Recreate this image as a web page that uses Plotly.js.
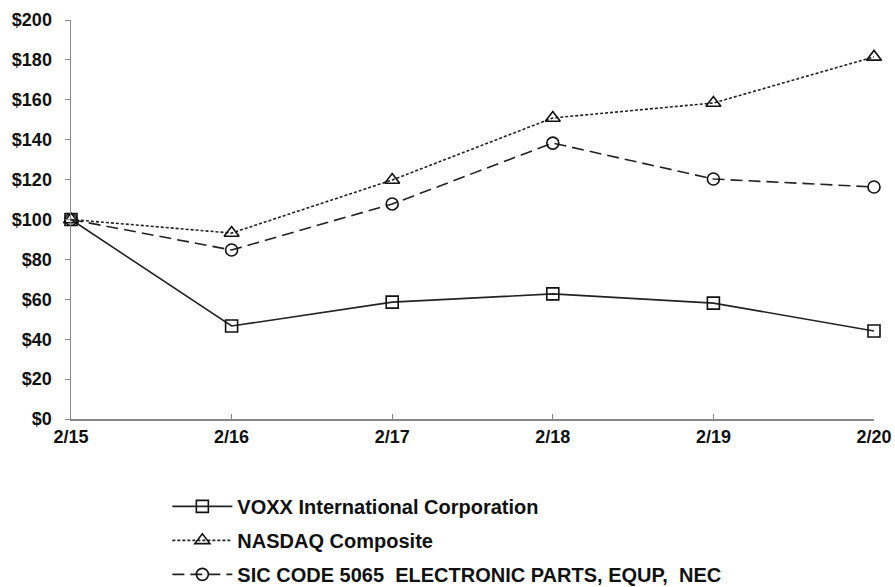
<!DOCTYPE html>
<html>
<head>
<meta charset="utf-8">
<script src="https://cdn.plot.ly/plotly-3.0.1.min.js"></script>
<style>html,body{margin:0;padding:0;background:#fff;}#chart{width:895px;height:587px;}</style>
</head>
<body>
<div id="chart"></div>
<script>
const periods = ["2/15", "2/16", "2/17", "2/18", "2/19", "2/20"];
const voxx = [100, 46.6, 58.6, 62.7, 58.1, 44.1];
const nasdaq = [100, 93.2, 119.8, 150.9, 158.4, 181.5];
const sic = [100, 84.7, 107.8, 138.3, 120.3, 116.3];
const seriesNames = ["VOXX International Corporation", "NASDAQ Composite", "SIC CODE 5065  ELECTRONIC PARTS, EQUP,  NEC"];

const xs = periods.map((p, i) => i);
const font = "Liberation Sans, Arial, sans-serif";

const traces = [
  {x: xs, y: voxx, name: seriesNames[0], legendgroup: "a", mode: "lines+markers", cliponaxis: false,
   line: {color: "#222", width: 1.6, dash: "solid"},
   marker: {symbol: "square-open", size: 12, color: "#111", line: {width: 1.6}}},
  {x: xs, y: nasdaq, name: seriesNames[1], legendgroup: "b", mode: "lines+markers", cliponaxis: false,
   line: {color: "#222", width: 1.6, dash: "3px,2px"},
   marker: {symbol: "triangle-up-open", size: 13, color: "#111", line: {width: 1.6}}},
  {x: xs, y: sic, name: seriesNames[2], legendgroup: "c", mode: "lines+markers", cliponaxis: false,
   line: {color: "#222", width: 1.6, dash: "12px,6px"},
   marker: {symbol: "circle-open", size: 12, color: "#111", line: {width: 1.6}}}
];

const layout = {
  width: 895, height: 587,
  margin: {l: 71, r: 21, t: 20, b: 168, autoexpand: false},
  paper_bgcolor: "#fff", plot_bgcolor: "#fff",
  font: {family: font, color: "#111", size: 18},
  showlegend: true,
  legend: {x: 0.12, xanchor: "left", y: -0.17, yanchor: "top",
    font: {family: font, size: 20, color: "#111", weight: "bold"},
    traceorder: "grouped", tracegroupgap: 5, itemwidth: 60, bgcolor: "rgba(0,0,0,0)"},
  xaxis: {range: [0, 5], tickvals: xs, ticktext: periods, showgrid: false, zeroline: false,
    showline: true, linecolor: "#888", linewidth: 1.5, ticks: "inside", ticklen: 5, tickcolor: "#888",
    ticklabelstandoff: 1, automargin: false, tickangle: 0,
    tickfont: {family: font, size: 18, color: "#111", weight: "bold"}, fixedrange: true},
  yaxis: {range: [0, 200], dtick: 20, tickprefix: "$", showgrid: false, zeroline: false,
    showline: true, linecolor: "#888", linewidth: 1.5, ticks: "outside", ticklen: 5, tickcolor: "#888",
    ticklabelstandoff: 9, automargin: false,
    tickfont: {family: font, size: 18, color: "#111", weight: "bold"}, fixedrange: true}
};

Plotly.newPlot("chart", traces, layout, {displayModeBar: false, staticPlot: true});
</script>
</body>
</html>
